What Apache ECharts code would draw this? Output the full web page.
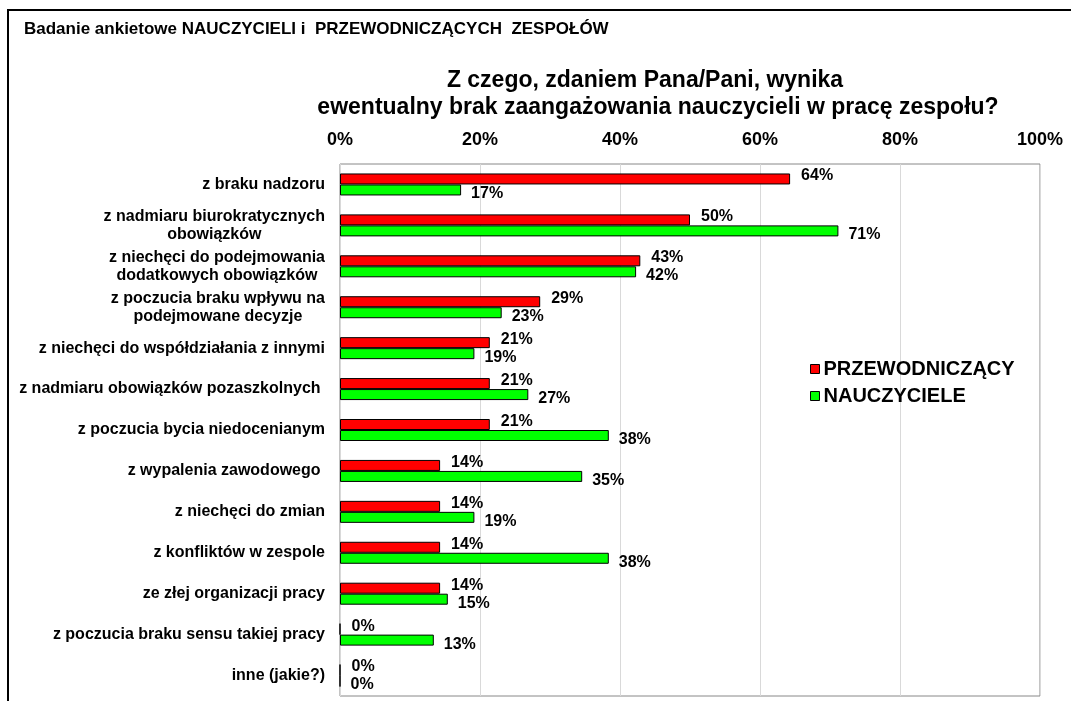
<!DOCTYPE html>
<html><head><meta charset="utf-8">
<script src="https://cdn.jsdelivr.net/npm/echarts@6/dist/echarts.min.js"></script>
<style>html,body{margin:0;padding:0;background:#fff}#c{width:1071px;height:701px}</style>
</head><body><div id="c"></div>
<script>
const categories = [
  'z braku nadzoru',
  'z nadmiaru biurokratycznych\nobowiązków',
  'z niechęci do podejmowania\ndodatkowych obowiązków',
  'z poczucia braku wpływu na\npodejmowane decyzje',
  'z niechęci do współdziałania z innymi',
  'z nadmiaru obowiązków pozaszkolnych ',
  'z poczucia bycia niedocenianym',
  'z wypalenia zawodowego ',
  'z niechęci do zmian',
  'z konfliktów w zespole',
  'ze złej organizacji pracy',
  'z poczucia braku sensu takiej pracy',
  'inne (jakie?)'
];
const przewodniczacy = [64.3, 50.0, 42.9, 28.6, 21.4, 21.4, 21.4, 14.3, 14.3, 14.3, 14.3, 0, 0];
const nauczyciele = [17.3, 71.2, 42.3, 23.1, 19.2, 26.9, 38.4, 34.6, 19.2, 38.4, 15.4, 13.4, 0];
const seriesNames = ['PRZEWODNICZĄCY', 'NAUCZYCIELE'];
const tickValues = [0, 20, 40, 60, 80, 100];
const subtitleText = 'Badanie ankietowe NAUCZYCIELI i  PRZEWODNICZĄCYCH  ZESPOŁÓW';
const titleLines = ['Z czego, zdaniem Pana/Pani, wynika', 'ewentualny brak zaangażowania nauczycieli w pracę zespołu?'];

const FONT = '"Liberation Sans", Arial, sans-serif';
const chart = echarts.init(document.getElementById('c'), null, {renderer: 'canvas'});
const fmt = p => Math.round(p.value) + '%';
const bold = (size) => ({fontFamily: FONT, fontSize: size, fontWeight: 'bold', color: '#000'});
chart.setOption({
  animation: false,
  backgroundColor: '#fff',
  textStyle: {fontFamily: FONT},
  title: [
    {text: subtitleText, left: 24, top: 21, padding: 0, textStyle: bold(17)},
    {text: titleLines[0], left: 645, top: 69, padding: 0, textAlign: 'center', textStyle: bold(23)},
    {text: titleLines[1], left: 658, top: 96, padding: 0, textAlign: 'center', textStyle: bold(23)}
  ],
  legend: {
    orient: 'vertical', left: 810, top: 359, padding: 0, itemWidth: 9, itemHeight: 9, itemGap: 7,
    icon: 'rect',
    itemStyle: {borderColor: '#000', borderWidth: 1},
    textStyle: Object.assign(bold(20), {padding: [0, 0, 0, -1]}),
    data: seriesNames
  },
  graphic: [{
    type: 'rect', shape: {x: 8, y: 10, width: 1200, height: 800},
    style: {fill: null, stroke: '#000', lineWidth: 2}, z: 100, silent: true
  }],
  grid: {left: 340, right: 31, top: 164, bottom: 5, show: true, borderColor: '#888', borderWidth: 1, containLabel: false},
  xAxis: {
    type: 'value', position: 'top', min: 0, max: 100, interval: 20,
    axisLine: {show: false}, axisTick: {show: false},
    splitLine: {show: true, lineStyle: {color: '#d9d9d9', width: 1}},
    axisLabel: Object.assign(bold(18), {margin: 15, formatter: v => tickValues.includes(v) ? v + '%' : ''})
  },
  yAxis: {
    type: 'category', inverse: true, data: categories,
    axisLine: {show: false}, axisTick: {show: false},
    axisLabel: Object.assign(bold(16), {
      margin: 15, lineHeight: 18, align: 'right',
      formatter: v => v.split('\n').map(l => '{c|' + l + '}').join('\n'),
      rich: {c: Object.assign(bold(16), {lineHeight: 18, align: 'center'})}
    })
  },
  series: [
    {name: seriesNames[0], type: 'bar', data: przewodniczacy, barWidth: 11, barGap: '0%',
     itemStyle: {color: '#ff0000', borderColor: '#000', borderWidth: 1},
     label: Object.assign(bold(16), {show: true, position: 'right', distance: 11, offset: [0, -3], formatter: fmt})},
    {name: seriesNames[1], type: 'bar', data: nauczyciele, barWidth: 11,
     itemStyle: {color: '#00ff00', borderColor: '#000', borderWidth: 1},
     label: Object.assign(bold(16), {show: true, position: 'right', distance: 10, offset: [0, 4], formatter: fmt})}
  ]
});
</script></body></html>
